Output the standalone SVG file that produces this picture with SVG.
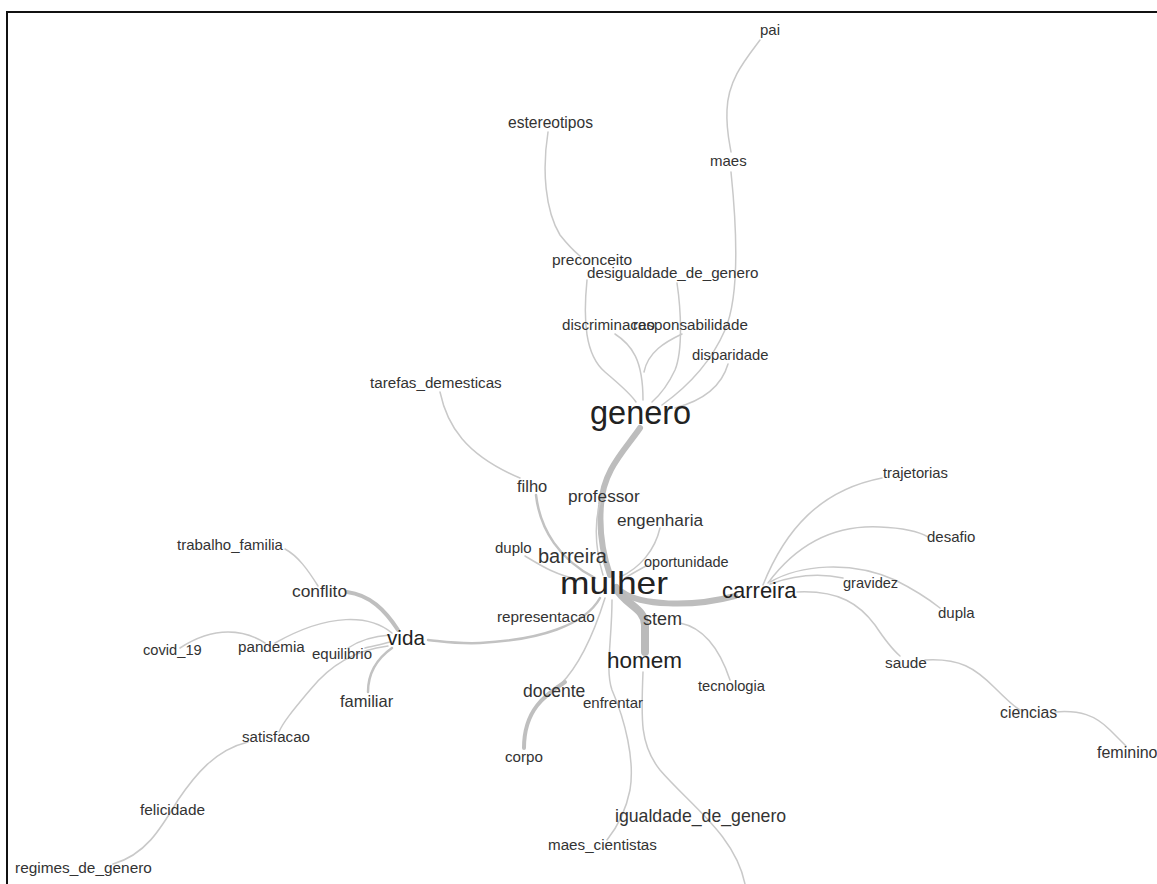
<svg xmlns="http://www.w3.org/2000/svg" width="1157" height="884" viewBox="0 0 1157 884">
<style>
.e{fill:none;stroke:#c9c9c9;stroke-width:1.5;stroke-linecap:round}
.t1{stroke:#c2c2c2;stroke-width:2.5}
.t2{stroke:#bfbfbf;stroke-width:4}
.t3{stroke:#bdbdbd;stroke-width:6}
.t4{stroke:#bbbbbb;stroke-width:8}
text{font-family:"Liberation Sans",Arial,sans-serif;fill:#333}
.big{fill:#222}
</style>
<rect x="0" y="0" width="1157" height="884" fill="#fff"/>
<path d="M7 884 L7 12 L1157 12" fill="none" stroke="#111" stroke-width="2"/>
<g id="connectors">
<path class="e" d="M760 40 C745 60 728 80 727 110 C726 130 730 145 731 152"/>
<path class="e" d="M731 172 C738 240 738 300 725 330 C712 360 690 385 662 405"/>
<path class="e" d="M728 364 C722 385 705 400 675 408"/>
<path class="e" d="M548 132 C542 170 545 210 560 235 C568 245 575 252 580 256"/>
<path class="e" d="M587 280 C583 320 585 355 605 372 C620 385 630 393 636 402"/>
<path class="e" d="M615 334 C632 345 643 360 643 400"/>
<path class="e" d="M682 334 C665 342 648 352 644 372"/>
<path class="e" d="M677 283 C681 310 683 350 675 370 C668 385 660 395 652 402"/>
<path class="e t3" d="M640 428 C625 450 603 470 601 505 C599 530 603 555 610 575"/>
<path class="e" d="M603 495 C594 515 594 545 603 575"/>
<path class="e" d="M440 392 C447 425 465 455 520 478"/>
<path class="e t1" d="M536 495 C540 530 560 560 595 578"/>
<path class="e" d="M525 556 C540 565 555 575 580 580"/>
<path class="e" d="M660 528 C655 550 640 568 620 577"/>
<path class="e" d="M625 578 C635 572 642 568 648 565"/>
<path class="e t3" d="M622 592 C640 605 690 608 735 596"/>
<path class="e t4" d="M616 588 C625 605 645 608 645 625 L645 652"/>
<path class="e" d="M643 672 C641 720 640 745 660 770 C690 805 735 835 745 884"/>
<path class="e" d="M612 600 C612 640 605 670 612 690 C625 720 635 760 630 790 C625 815 615 830 607 840"/>
<path class="e" d="M605 598 C595 630 580 665 560 685"/>
<path class="e t2" d="M565 682 C545 695 524 710 524 748"/>
<path class="e t1" d="M600 598 C585 625 540 640 480 643 C455 644 440 641 428 640"/>
<path class="e t2" d="M398 630 C385 610 370 595 347 592"/>
<path class="e" d="M318 586 C308 570 298 556 285 549"/>
<path class="e" d="M392 633 C370 615 330 612 275 643"/>
<path class="e" d="M265 643 C245 630 215 625 180 648"/>
<path class="e" d="M390 635 C375 636 360 640 348 648"/>
<path class="e" d="M390 642 C380 645 372 646 365 648"/>
<path class="e" d="M388 646 C355 650 330 665 310 690 C295 708 283 722 279 732"/>
<path class="e t1" d="M392 648 C375 660 368 675 368 692"/>
<path class="e" d="M248 742 C215 750 195 775 178 800 C160 830 145 855 113 864"/>
<path class="e" d="M763 585 C785 530 820 490 882 478"/>
<path class="e" d="M768 583 C800 540 840 525 880 527 C905 528 918 531 928 537"/>
<path class="e" d="M770 582 C800 565 850 560 895 580 C915 590 930 600 940 608"/>
<path class="e" d="M770 584 C795 575 820 573 843 578"/>
<path class="e" d="M797 592 C840 590 860 605 875 625 C885 640 893 650 900 656"/>
<path class="e" d="M925 660 C960 658 975 668 995 688 C1005 698 1013 706 1020 710"/>
<path class="e" d="M1055 712 C1080 710 1095 715 1110 730 C1117 737 1122 742 1126 746"/>
<path class="e" d="M680 623 C705 628 720 650 730 680"/>
</g>
<g id="n-pai"><text x="760" y="35" font-size="15">pai</text></g>
<g id="n-estereotipos"><text x="508" y="128" font-size="15.6">estereotipos</text></g>
<g id="n-maes"><text x="710" y="166" font-size="15">maes</text></g>
<g id="n-preconceito"><text x="552" y="265" font-size="15.5">preconceito</text></g>
<g id="n-desigualdade"><text x="587" y="278" font-size="15.2">desigualdade_de_genero</text></g>
<g id="n-discriminacao"><text x="562" y="330" font-size="15.2">discriminacao</text></g>
<g id="n-responsabilidade"><text x="633" y="330" font-size="15.2">responsabilidade</text></g>
<g id="n-disparidade"><text x="692" y="360" font-size="14.8">disparidade</text></g>
<g id="n-tarefas"><text x="370" y="388" font-size="15.2">tarefas_demesticas</text></g>
<g id="n-genero"><text class="big" x="590" y="424" font-size="32.5">genero</text></g>
<g id="n-filho"><text x="517" y="492" font-size="16.5">filho</text></g>
<g id="n-professor"><text x="568" y="502" font-size="17.2">professor</text></g>
<g id="n-engenharia"><text x="617" y="526" font-size="17.2">engenharia</text></g>
<g id="n-duplo"><text x="495" y="553" font-size="15">duplo</text></g>
<g id="n-barreira"><text x="538" y="563" font-size="20">barreira</text></g>
<g id="n-oportunidade"><text x="644" y="567" font-size="14.5">oportunidade</text></g>
<g id="n-mulher"><text class="big" x="560" y="594" font-size="32" textLength="108" lengthAdjust="spacingAndGlyphs">mulher</text></g>
<g id="n-carreira"><text class="big" x="722" y="598" font-size="22">carreira</text></g>
<g id="n-trajetorias"><text x="883" y="478" font-size="14.8">trajetorias</text></g>
<g id="n-desafio"><text x="927" y="542" font-size="15">desafio</text></g>
<g id="n-gravidez"><text x="843" y="588" font-size="14.6">gravidez</text></g>
<g id="n-dupla"><text x="938" y="618" font-size="15">dupla</text></g>
<g id="n-representacao"><text x="497" y="622" font-size="15.3">representacao</text></g>
<g id="n-stem"><text x="643" y="625" font-size="18">stem</text></g>
<g id="n-homem"><text class="big" x="607" y="668" font-size="22.5">homem</text></g>
<g id="n-saude"><text x="885" y="668" font-size="15.4">saude</text></g>
<g id="n-tecnologia"><text x="698" y="691" font-size="14.7">tecnologia</text></g>
<g id="n-docente"><text x="523" y="697" font-size="17.5">docente</text></g>
<g id="n-enfrentar"><text x="583" y="708" font-size="15">enfrentar</text></g>
<g id="n-ciencias"><text x="1000" y="718" font-size="15.8">ciencias</text></g>
<g id="n-feminino"><text x="1097" y="758" font-size="16">feminino</text></g>
<g id="n-corpo"><text x="505" y="762" font-size="15.2">corpo</text></g>
<g id="n-igualdade"><text x="615" y="822" font-size="17.7">igualdade_de_genero</text></g>
<g id="n-maes-cientistas"><text x="548" y="850" font-size="15.2">maes_cientistas</text></g>
<g id="n-trabalho"><text x="177" y="550" font-size="15">trabalho_familia</text></g>
<g id="n-conflito"><text x="292" y="597" font-size="17.4">conflito</text></g>
<g id="n-vida"><text class="big" x="387" y="645" font-size="20.7">vida</text></g>
<g id="n-covid"><text x="143" y="655" font-size="14.7">covid_19</text></g>
<g id="n-pandemia"><text x="238" y="652" font-size="15.2">pandemia</text></g>
<g id="n-equilibrio"><text x="312" y="659" font-size="15">equilibrio</text></g>
<g id="n-familiar"><text x="340" y="707" font-size="16.5">familiar</text></g>
<g id="n-satisfacao"><text x="242" y="742" font-size="15.1">satisfacao</text></g>
<g id="n-felicidade"><text x="140" y="815" font-size="15.4">felicidade</text></g>
<g id="n-regimes"><text x="15" y="873" font-size="15.4">regimes_de_genero</text></g>
</svg>
